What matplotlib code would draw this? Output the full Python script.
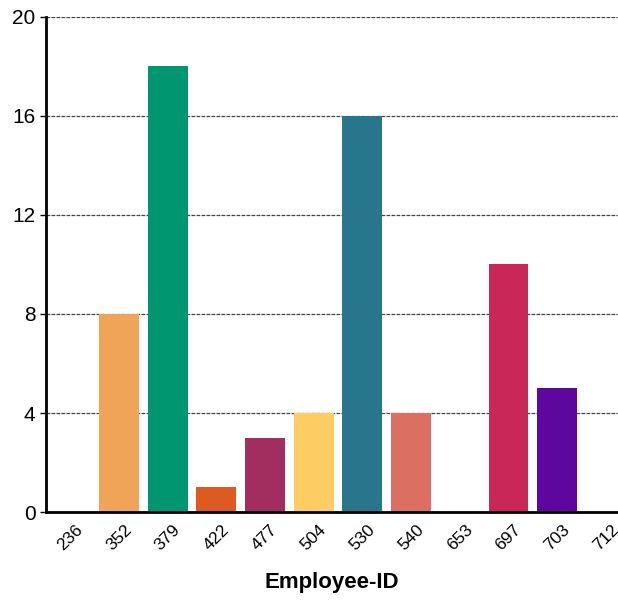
import matplotlib.pyplot as plt

employee_ids = ["236", "352", "379", "422", "477", "504", "530", "540", "653", "697", "703", "712"]
counts = [0, 8, 18, 1, 3, 4, 16, 4, 0, 10, 5, 0]
colors = ["#F0A458", "#F0A458", "#009670", "#DD5A20", "#A22E60", "#FDCD63",
          "#27768C", "#DB7062", "#C92757", "#C92757", "#5E079E", "#5E079E"]

plt.rcParams["font.family"] = ["Liberation Sans", "DejaVu Sans"]

fig = plt.figure(figsize=(6.18, 6.01), dpi=100)
ax = fig.add_axes([0.0744, 0.148, 0.9256, 0.824])

x = range(len(employee_ids))
ax.bar(x, counts, width=0.82, color=colors, zorder=2)

ax.set_xlim(-0.5, 11.25)
ax.set_ylim(0, 20)
ax.set_yticks([0, 4, 8, 12, 16, 20])
ax.set_xticks(list(x))
ax.set_xticklabels(employee_ids, rotation=45, fontsize=12.5, ha="center", va="top")
ax.tick_params(axis="y", labelsize=15, length=4, width=1)
ax.tick_params(axis="x", length=0, pad=7)

ax.grid(axis="y", color="#444444", linewidth=0.9, linestyle=(0, (3, 1)), zorder=1)
for s in ["top", "right"]:
    ax.spines[s].set_visible(False)
ax.spines["left"].set_linewidth(2)
ax.spines["bottom"].set_linewidth(2)

ax.set_xlabel("Employee-ID", fontsize=16, fontweight="bold", labelpad=14)

fig.savefig("out.png", dpi=100)
